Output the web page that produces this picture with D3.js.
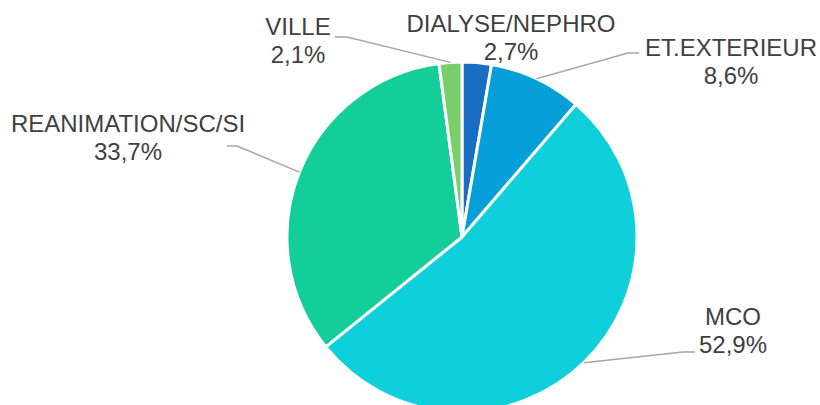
<!DOCTYPE html>
<html>
<head>
<meta charset="utf-8">
<script src="https://cdn.jsdelivr.net/npm/d3@7"></script>
<style>
  html, body { margin: 0; padding: 0; background: #fff; }
  svg { display: block; font-family: Arial, "Liberation Sans", Helvetica, sans-serif; }
</style>
</head>
<body>
<div id="chart"></div>
<script>
// data
const categories = ["DIALYSE/NEPHRO", "ET.EXTERIEUR", "MCO", "REANIMATION/SC/SI", "VILLE"];
const values = [2.7, 8.6, 52.9, 33.7, 2.1];
const colors = ["#1A6DC4", "#069FD8", "#0FCFDA", "#13CE98", "#7ACE6A"];

// label layout: text centre x, first baseline y, leader elbow + end (null = no leader)
const labelPos = [
  { x: 511, y: 32, elbow: null },
  { x: 731, y: 56, elbow: [628, 53], end: [639, 53] },
  { x: 733, y: 325, elbow: [683, 352], end: [695, 352] },
  { x: 128, y: 132, elbow: [237, 146], end: [227, 146] },
  { x: 298, y: 35, elbow: [347, 37], end: [335, 37] }
];

const width = 820, height = 405;
const cx = 462, cy = 237, radius = 175;

const svg = d3.select("#chart")
  .append("svg")
  .attr("width", width)
  .attr("height", height);

const data = categories.map((c, i) => ({ name: c, value: values[i], color: colors[i], lab: labelPos[i] }));

const pie = d3.pie().sort(null).value(d => d.value);
const arc = d3.arc().innerRadius(0).outerRadius(radius);
const arcs = pie(data);

const g = svg.append("g").attr("transform", `translate(${cx},${cy})`);

g.selectAll("path")
  .data(arcs)
  .enter()
  .append("path")
  .attr("d", arc)
  .attr("fill", d => d.data.color)
  .attr("stroke", "#fff")
  .attr("stroke-width", 3)
  .attr("stroke-linejoin", "round");

// leader lines
arcs.forEach(a => {
  const lab = a.data.lab;
  if (!lab.elbow) return;
  const mid = (a.startAngle + a.endAngle) / 2;
  const sx = cx + radius * Math.sin(mid);
  const sy = cy - radius * Math.cos(mid);
  svg.append("polyline")
    .attr("points", [[sx, sy], lab.elbow, lab.end].map(p => p.join(",")).join(" "))
    .attr("fill", "none")
    .attr("stroke", "#A6A6A6")
    .attr("stroke-width", 1.5);
});

// labels
const fmt = v => v.toFixed(1).replace(".", ",") + "%";
arcs.forEach(a => {
  const lab = a.data.lab;
  const t = svg.append("text")
    .attr("text-anchor", "middle")
    .attr("font-size", "24px")
    .attr("fill", "#404040");
  t.append("tspan").attr("x", lab.x).attr("y", lab.y).text(a.data.name);
  t.append("tspan").attr("x", lab.x).attr("y", lab.y + 28).text(fmt(a.data.value));
});
</script>
</body>
</html>
